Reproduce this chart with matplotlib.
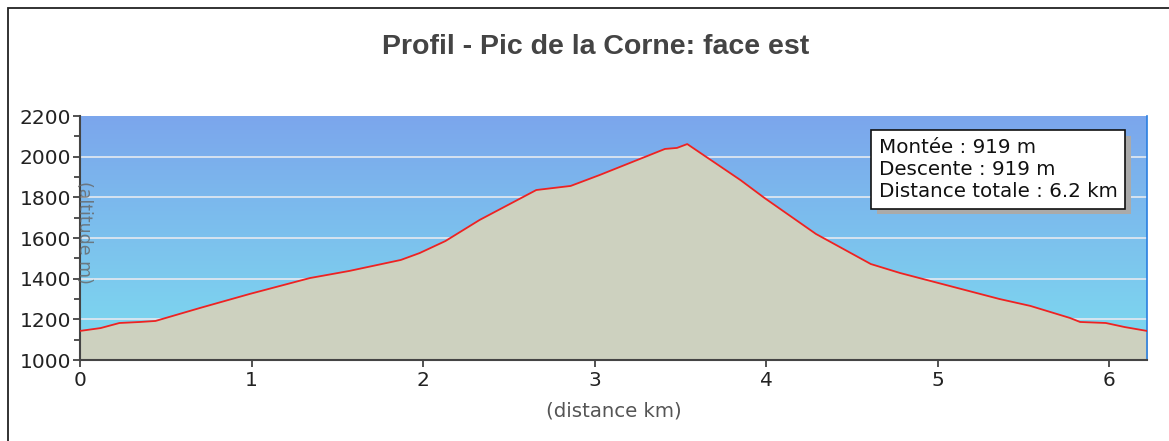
import numpy as np
import matplotlib.pyplot as plt
import matplotlib.patheffects as pe
from matplotlib.colors import LinearSegmentedColormap
from matplotlib.patches import Rectangle

# profile data (distance km, altitude m)
dist = [0.0, 0.12, 0.23, 0.35, 0.44, 0.70, 0.99, 1.34, 1.57, 1.87, 1.98, 2.13,
        2.33, 2.66, 2.86, 3.03, 3.41, 3.48, 3.54, 3.85, 3.99, 4.29, 4.61, 4.78,
        5.07, 5.36, 5.54, 5.77, 5.83, 5.98, 6.09, 6.22]
alt = [1143, 1157, 1182, 1187, 1192, 1256, 1325, 1403, 1438, 1492, 1526, 1585,
       1689, 1836, 1856, 1910, 2038, 2043, 2062, 1885, 1797, 1620, 1472, 1428,
       1364, 1300, 1266, 1207, 1187, 1182, 1162, 1143]
title = "Profil - Pic de la Corne: face est"
info = ["Montée : 919 m", "Descente : 919 m", "Distance totale : 6.2 km"]

fig = plt.figure(figsize=(11.69, 4.41), dpi=100)
W, H = 1169, 441
ax = fig.add_axes([80 / W, (H - 360) / H, (1147 - 80) / W, 244 / H])

xmax = 6.22
ax.set_xlim(0, xmax)
ax.set_ylim(1000, 2200)

# sky gradient
cmap = LinearSegmentedColormap.from_list("sky", ["#7ddcef", "#7ba6ec"])
grad = np.linspace(0, 1, 256).reshape(-1, 1)
ax.imshow(grad, extent=[0, xmax, 1000, 2200], origin="lower", cmap=cmap,
          aspect="auto", zorder=0)

for yv in range(1200, 2200, 200):
    ax.axhline(yv, color="#dde6f0", lw=1.3, zorder=1)

ax.fill_between(dist, alt, 1000, color="#cdd1bf", zorder=2)
ax.plot(dist, alt, color="#ee2222", lw=1.3, zorder=3)

ax.set_yticks(range(1000, 2201, 200))
ax.set_yticks(range(1100, 2200, 200), minor=True)
ax.set_xticks(range(0, 7))
ax.tick_params(axis="both", direction="out", length=5, width=1.2,
               colors="#333333", labelsize=14.5, labelcolor="#222222")
ax.tick_params(axis="y", which="minor", length=4, width=1.2, colors="#333333")
ax.tick_params(axis="x", pad=3)
ax.tick_params(axis="y", pad=1.5)
ax.spines["top"].set_visible(False)
ax.spines["right"].set_color("#2a7fe0")
ax.spines["right"].set_linewidth(1.2)
ax.spines["left"].set_color("#444444")
ax.spines["bottom"].set_color("#444444")
ax.spines["left"].set_linewidth(1.5)
ax.spines["bottom"].set_linewidth(1.5)

ax.set_xlabel("(distance km)", fontsize=14.2, color="#555555", labelpad=8)
fig.text(84 / W, 1 - 232 / H, "(altitude m)", rotation=-90, fontsize=12.5,
         color="#666666", ha="center", va="center", alpha=0.8)

fig.text(596 / W, 1 - 47 / H, title, fontsize=20.5, fontweight="bold",
         family="Liberation Sans", color="#444444", ha="center", va="center")

t = ax.text(0.7485, 0.91, "\n".join(info), transform=ax.transAxes,
            fontsize=14.3, ha="left", va="top", color="#111111",
            linespacing=1.2, zorder=5,
            bbox=dict(boxstyle="square,pad=0.38", fc="white", ec="#111111",
                      lw=1.2))
t.get_bbox_patch().set_path_effects([
    pe.SimplePatchShadow(offset=(4, -4), shadow_rgbFace="#aaaaaa", alpha=1),
    pe.Normal()])

# outer frame (left and top)
fig.patches.append(Rectangle((8 / W, -0.1), 1.2, 1 - 8 / H + 0.1,
                             transform=fig.transFigure, fill=False,
                             ec="#222222", lw=1.3))

fig.savefig("out.png", dpi=100)
